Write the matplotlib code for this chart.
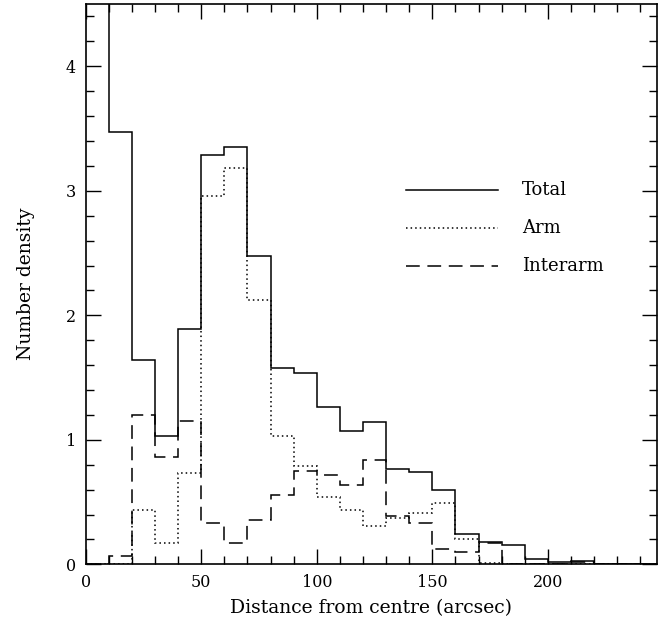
import numpy as np
import matplotlib
matplotlib.use("Agg")
import matplotlib.pyplot as plt
from matplotlib.ticker import MultipleLocator

# bin edges (arcsec)
edges = np.arange(0, 260, 10)

total = [6.0, 3.47, 1.64, 1.03, 1.89, 3.29, 3.35, 2.48, 1.58, 1.54, 1.26, 1.07,
         1.14, 0.77, 0.74, 0.60, 0.245, 0.18, 0.155, 0.045, 0.016, 0.03, 0.0, 0.005, 0.0]
arm = [0.0, 0.0, 0.44, 0.175, 0.735, 2.96, 3.18, 2.12, 1.03, 0.79, 0.545, 0.44,
       0.31, 0.37, 0.41, 0.49, 0.20, 0.01, 0.0, 0.0, 0.0, 0.0, 0.0, 0.0, 0.0]
interarm = [0.0, 0.067, 1.20, 0.86, 1.155, 0.33, 0.17, 0.36, 0.555, 0.75, 0.715, 0.64,
            0.835, 0.39, 0.33, 0.12, 0.10, 0.17, 0.0, 0.0, 0.0, 0.02, 0.0, 0.0, 0.0]

labels = ["Total", "Arm", "Interarm"]

plt.rcParams['font.family'] = ['DejaVu Serif']
fig = plt.figure(figsize=(6.67, 6.19), dpi=100)
ax = fig.add_axes([0.1285, 0.0882, 0.9843 - 0.1285, 0.9935 - 0.0882])

lw = 1.1
dotted = (0, (1, 2))
dashed = (0, (9, 5))
ax.stairs(total, edges, color='black', lw=lw, linestyle='-', baseline=None)
ax.stairs(arm, edges, color='black', lw=lw, linestyle=dotted, baseline=None)
ax.stairs(interarm, edges, color='black', lw=lw, linestyle=dashed, baseline=None)

ax.set_xlim(0, 247)
ax.set_ylim(0, 4.5)

ax.xaxis.set_major_locator(MultipleLocator(50))
ax.xaxis.set_minor_locator(MultipleLocator(10))
ax.yaxis.set_major_locator(MultipleLocator(1))
ax.yaxis.set_minor_locator(MultipleLocator(0.2))
ax.tick_params(which='both', direction='in', top=True, right=True, width=1.0,
               labelsize=11.5)
ax.tick_params(which='major', length=11, pad=7)
ax.tick_params(which='minor', length=6)
for s in ax.spines.values():
    s.set_linewidth(1.2)

ax.set_xlabel("Distance from centre (arcsec)", fontsize=13.5, labelpad=6)
ax.set_ylabel("Number density", fontsize=13.5, labelpad=22)

# legend
styles = ['-', dotted, dashed]
ys = [0.668, 0.600, 0.533]
for lab, st, yy in zip(labels, styles, ys):
    ax.plot([0.561, 0.722], [yy, yy], transform=ax.transAxes, color='black',
            lw=lw, linestyle=st)
    ax.text(0.764, yy, lab, transform=ax.transAxes, fontsize=13,
            va='center', ha='left')

fig.savefig("out.png", dpi=100)
